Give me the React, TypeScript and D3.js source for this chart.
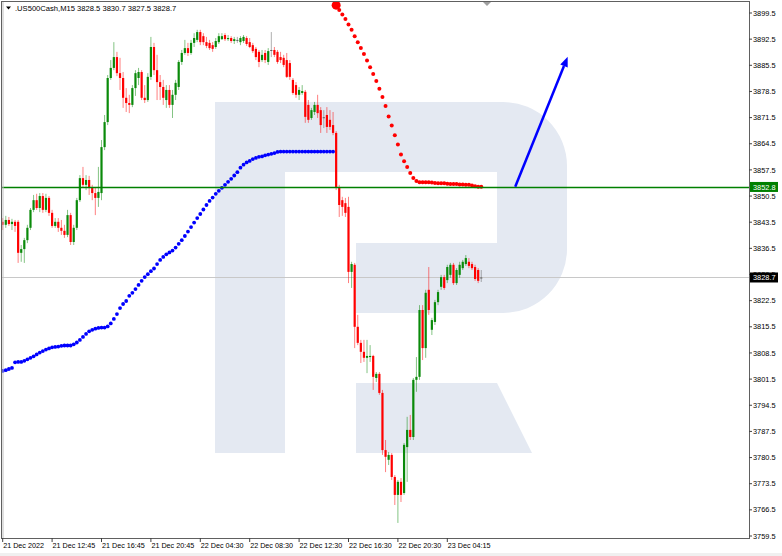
import React from 'react';
import * as d3 from 'd3';

const symbol = '.US500Cash,M15';
const lastBar = [3828.5, 3830.7, 3827.5, 3828.7];

// M15 candles
const opens = [
  3843.6, 3842.8, 3844.1, 3843.0, 3843.6, 3843.6, 3835.3, 3836.3, 3838.7, 3842.0,
  3846.8, 3849.4, 3847.3, 3850.5, 3846.8, 3850.0, 3846.0, 3842.5, 3843.6, 3842.0,
  3841.2, 3840.1, 3845.4, 3838.2, 3842.0, 3849.4, 3855.3, 3853.5, 3854.8, 3852.9,
  3851.3, 3850.0, 3851.3, 3863.6, 3870.3, 3882.1, 3884.8, 3887.7, 3883.4, 3882.1,
  3876.8, 3875.4, 3874.9, 3879.4, 3882.1, 3883.7, 3876.8, 3876.2, 3882.4, 3890.4,
  3884.2, 3881.0, 3879.7, 3876.2, 3878.9, 3874.9, 3877.6, 3879.7, 3886.4, 3888.8,
  3890.1, 3888.8, 3891.5, 3892.3, 3894.4, 3893.3, 3891.7, 3891.5, 3890.9, 3890.4,
  3891.7, 3892.5, 3893.6, 3892.5, 3892.8, 3892.0, 3892.3, 3891.7, 3892.0, 3892.8,
  3891.7, 3890.9, 3889.9, 3889.1, 3886.9, 3888.8, 3886.4, 3889.6, 3889.6, 3889.1,
  3887.7, 3887.5, 3886.9, 3886.1, 3881.6, 3880.2, 3877.6, 3878.1, 3878.4, 3874.9,
  3871.4, 3873.0, 3874.9, 3873.5, 3871.6, 3872.2, 3870.9, 3869.5, 3867.4, 3852.9,
  3849.4, 3848.6, 3847.6, 3830.2, 3832.1, 3815.5, 3811.2, 3808.8, 3807.2, 3807.4,
  3807.7, 3801.8, 3802.9, 3797.8, 3782.5, 3779.9, 3781.2, 3775.3, 3770.5, 3774.0,
  3771.0, 3783.3, 3787.9, 3786.0, 3801.3, 3802.1, 3820.0, 3809.8, 3825.4, 3814.7,
  3816.8, 3822.1, 3826.2, 3828.8, 3828.0, 3829.4, 3832.1, 3827.2, 3829.4, 3831.2,
  3832.3, 3832.9, 3832.3, 3831.5, 3830.7, 3828.5,
];
const highs = [
  3844.6, 3845.2, 3844.9, 3844.4, 3844.1, 3844.1, 3837.4, 3839.3, 3842.8, 3847.3,
  3850.8, 3851.1, 3851.3, 3851.3, 3851.1, 3850.5, 3846.8, 3844.6, 3844.6, 3844.1,
  3842.8, 3846.8, 3846.0, 3842.8, 3850.0, 3856.1, 3858.3, 3856.1, 3855.9, 3853.5,
  3852.7, 3858.3, 3865.5, 3872.2, 3882.9, 3886.9, 3891.7, 3889.1, 3887.5, 3883.7,
  3879.4, 3877.6, 3880.2, 3884.2, 3884.8, 3884.2, 3880.2, 3883.4, 3893.1, 3891.5,
  3888.3, 3882.9, 3881.6, 3880.2, 3880.2, 3878.9, 3881.6, 3886.9, 3889.6, 3892.3,
  3891.5, 3892.3, 3894.1, 3895.0, 3895.0, 3894.1, 3893.1, 3892.3, 3891.7, 3892.8,
  3894.1, 3894.1, 3894.1, 3893.6, 3893.3, 3893.1, 3893.1, 3893.3, 3893.6, 3893.3,
  3892.8, 3891.5, 3890.4, 3889.6, 3889.6, 3889.6, 3890.1, 3894.4, 3890.4, 3889.6,
  3889.1, 3888.3, 3888.8, 3886.9, 3882.1, 3881.0, 3879.7, 3880.2, 3878.9, 3876.2,
  3874.1, 3875.7, 3877.6, 3874.3, 3873.5, 3874.3, 3873.5, 3873.0, 3867.9, 3853.5,
  3850.3, 3850.0, 3850.3, 3832.9, 3832.6, 3818.7, 3812.0, 3812.0, 3812.0, 3810.6,
  3808.0, 3803.4, 3803.4, 3798.6, 3785.2, 3782.0, 3781.7, 3775.8, 3774.5, 3775.0,
  3784.4, 3791.4, 3791.9, 3801.8, 3807.4, 3821.3, 3821.3, 3825.4, 3831.5, 3817.9,
  3822.7, 3825.4, 3829.4, 3829.4, 3832.1, 3832.6, 3832.6, 3831.2, 3832.9, 3833.4,
  3834.7, 3833.9, 3832.9, 3832.1, 3831.2, 3830.7,
];
const lows = [
  3841.4, 3842.0, 3842.5, 3841.4, 3840.9, 3832.6, 3832.9, 3832.6, 3837.9, 3841.4,
  3846.2, 3846.8, 3846.2, 3846.0, 3846.2, 3845.2, 3842.0, 3842.0, 3840.9, 3840.1,
  3839.3, 3839.5, 3837.4, 3837.4, 3841.4, 3848.9, 3852.7, 3852.1, 3850.8, 3849.4,
  3845.4, 3847.6, 3849.4, 3862.8, 3869.5, 3881.6, 3884.2, 3882.6, 3878.9, 3874.1,
  3873.0, 3872.7, 3874.3, 3877.3, 3880.2, 3876.2, 3875.4, 3875.7, 3881.6, 3882.9,
  3876.2, 3876.2, 3874.9, 3874.1, 3874.1, 3871.4, 3876.2, 3878.9, 3885.6, 3888.3,
  3888.0, 3888.3, 3890.4, 3891.7, 3890.9, 3890.9, 3890.1, 3889.6, 3889.1, 3889.9,
  3891.2, 3892.3, 3892.0, 3892.0, 3891.5, 3891.2, 3891.5, 3890.9, 3891.5, 3890.7,
  3890.1, 3888.8, 3886.9, 3885.0, 3886.4, 3886.1, 3885.6, 3887.7, 3887.7, 3885.9,
  3886.1, 3885.0, 3882.1, 3881.6, 3877.6, 3876.8, 3876.2, 3877.6, 3870.1, 3870.1,
  3870.9, 3872.2, 3871.4, 3867.4, 3868.7, 3867.4, 3868.2, 3866.8, 3852.1, 3844.9,
  3845.2, 3844.9, 3827.2, 3825.9, 3809.8, 3810.6, 3805.8, 3806.1, 3803.1, 3806.1,
  3798.6, 3800.7, 3797.3, 3781.2, 3776.6, 3778.5, 3774.5, 3767.8, 3763.0, 3768.6,
  3770.5, 3774.0, 3785.2, 3785.2, 3798.1, 3801.3, 3806.6, 3807.2, 3818.7, 3813.3,
  3816.0, 3821.3, 3825.4, 3825.4, 3827.2, 3828.6, 3826.7, 3826.7, 3828.6, 3830.7,
  3831.8, 3831.2, 3830.7, 3827.8, 3827.2, 3827.5,
];
const closes = [
  3842.8, 3844.1, 3843.0, 3843.6, 3842.5, 3835.3, 3836.3, 3838.7, 3842.0, 3846.8,
  3849.4, 3847.3, 3850.5, 3846.8, 3850.0, 3846.0, 3842.5, 3843.6, 3842.0, 3841.2,
  3840.1, 3845.4, 3838.2, 3842.0, 3849.4, 3855.3, 3853.5, 3854.8, 3852.9, 3851.3,
  3850.0, 3851.6, 3863.6, 3870.3, 3882.1, 3884.8, 3887.7, 3883.4, 3882.1, 3876.8,
  3875.4, 3874.9, 3879.4, 3883.4, 3883.7, 3876.8, 3876.2, 3882.4, 3890.4, 3884.2,
  3881.0, 3879.7, 3876.8, 3878.9, 3874.9, 3877.6, 3880.8, 3886.4, 3888.8, 3890.1,
  3888.8, 3891.5, 3892.8, 3894.4, 3891.7, 3891.7, 3890.7, 3890.1, 3889.9, 3892.0,
  3893.3, 3893.3, 3892.5, 3892.8, 3892.0, 3892.5, 3892.3, 3892.8, 3893.1, 3891.2,
  3890.4, 3889.3, 3887.7, 3886.4, 3888.3, 3886.9, 3889.3, 3889.6, 3888.3, 3886.4,
  3886.9, 3885.6, 3882.4, 3882.4, 3878.1, 3877.6, 3878.9, 3878.6, 3871.7, 3870.9,
  3873.5, 3874.9, 3872.7, 3869.5, 3871.4, 3869.0, 3869.0, 3867.4, 3852.9, 3848.1,
  3847.6, 3846.0, 3830.2, 3832.3, 3815.5, 3811.2, 3808.8, 3807.2, 3807.7, 3807.7,
  3802.1, 3802.9, 3797.8, 3782.5, 3780.7, 3781.2, 3775.3, 3770.5, 3774.0, 3770.5,
  3783.9, 3787.9, 3786.0, 3801.3, 3802.1, 3820.0, 3809.8, 3824.6, 3820.0, 3817.3,
  3822.1, 3824.8, 3828.8, 3825.9, 3831.5, 3832.1, 3827.2, 3830.7, 3832.1, 3832.9,
  3833.9, 3831.8, 3831.2, 3828.3, 3827.8, 3828.7,
];

// blue dotted indicator, bars 0..107
const blueDots = [
  3803.7, 3803.9, 3804.2, 3804.5, 3806.0, 3806.1, 3806.1, 3806.4, 3806.8, 3807.2,
  3807.6, 3808.1, 3808.6, 3809.0, 3809.4, 3809.7, 3810.0, 3810.1, 3810.2, 3810.4,
  3810.5, 3810.5, 3810.5, 3810.8, 3811.3, 3812.0, 3812.8, 3813.6, 3814.3, 3814.7,
  3815.0, 3815.2, 3815.3, 3815.3, 3815.6, 3816.4, 3817.6, 3818.9, 3820.5, 3821.6,
  3822.4, 3823.8, 3824.6, 3825.6, 3826.7, 3827.8, 3828.8, 3829.6, 3830.4, 3831.1,
  3832.3, 3833.4, 3834.2, 3834.9, 3835.4, 3835.9, 3836.7, 3837.7, 3838.7, 3839.8,
  3841.0, 3842.2, 3843.4, 3844.6, 3845.7, 3846.9, 3848.1, 3849.2, 3850.1, 3851.1,
  3851.9, 3852.7, 3853.5, 3854.3, 3855.1, 3856.0, 3856.9, 3858.1, 3858.9, 3859.5,
  3859.9, 3860.4, 3860.7, 3861.0, 3861.1, 3861.4, 3861.6, 3861.8, 3862.0, 3862.3,
  3862.4, 3862.4, 3862.4, 3862.4, 3862.4, 3862.4, 3862.4, 3862.4, 3862.4, 3862.4,
  3862.4, 3862.4, 3862.4, 3862.4, 3862.4, 3862.4, 3862.4, 3862.4,
];
// red dotted indicator, from bar 108 on
const redStart = 108;
const redDots = [
  3901.6, 3900.3, 3899.1, 3897.9, 3896.4, 3895.0, 3893.3, 3891.7, 3890.1, 3888.5,
  3886.8, 3885.0, 3883.2, 3881.3, 3879.2, 3877.0, 3874.6, 3871.8, 3869.4, 3866.8,
  3864.3, 3861.6, 3859.8, 3858.3, 3856.7, 3855.3, 3854.5, 3854.2, 3854.2, 3854.2,
  3854.2, 3854.1, 3854.0, 3853.9, 3853.9, 3853.9, 3853.8, 3853.7, 3853.7, 3853.7,
  3853.6, 3853.6, 3853.5, 3853.5, 3853.3, 3853.1, 3853.0, 3853.0,
];

const yTicks = [
  3899.5, 3892.5, 3885.5, 3878.5, 3871.5, 3864.5, 3857.5, 3850.5, 3843.5, 3836.5,
  3829.5, 3822.5, 3815.5, 3808.5, 3801.5, 3794.5, 3787.5, 3780.5, 3773.5, 3766.5, 3759.5,
];
const xTickLabels = [
  '21 Dec 2022', '21 Dec 12:45', '21 Dec 16:45', '21 Dec 20:45', '22 Dec 04:30',
  '22 Dec 08:30', '22 Dec 12:30', '22 Dec 16:30', '22 Dec 20:30', '23 Dec 04:15',
];
const barsPerLabel = 16;
const levelPrice = 3852.8;
const arrowFrom = [166, 3853.0];
const arrowTo = [183, 3887.8];

const FONT = '"Liberation Sans", Arial, sans-serif';

export default function App() {
  const W = 782;
  const H = 556;
  const L = 2, T = 2, R = 749, B = 538;

  const x = d3.scaleLinear().domain([0, 144]).range([2.7, 447.3]);
  const y = d3.scaleLinear().domain([3759.5, 3899.5]).range([536, 13]);
  const last = closes[closes.length - 1];

  const bars = closes.map((c, i) => {
    const o = opens[i];
    const diff = c - o;
    const color = Math.abs(diff) < 0.25 ? '#606060' : diff > 0 ? '#0a8a0a' : '#ff0000';
    const top = y(Math.max(o, c));
    const h = Math.max(1, Math.abs(y(o) - y(c)));
    return { i, cx: x(i), hi: y(highs[i]), lo: y(lows[i]), top, h, color };
  });

  const ax0 = x(arrowFrom[0]), ay0 = y(arrowFrom[1]);
  const ax1 = x(arrowTo[0]), ay1 = y(arrowTo[1]);
  const ang = Math.atan2(ay1 - ay0, ax1 - ax0);
  const headLen = 10, headW = 4;
  const bx = ax1 - headLen * Math.cos(ang), by = ay1 - headLen * Math.sin(ang);
  const head = [
    [ax1, ay1],
    [bx + headW * Math.sin(ang), by - headW * Math.cos(ang)],
    [bx - headW * Math.sin(ang), by + headW * Math.cos(ang)],
  ];

  const logo = '#e4e9f2';

  return (
    <svg width={W} height={H} style={{ position: 'absolute', left: 0, top: 0, background: '#fff' }}
      fontFamily={FONT}>
      <defs>
        <clipPath id="plot">
          <rect x={L} y={T} width={R - L} height={B - T} />
        </clipPath>
      </defs>
      <rect x={0} y={0} width={W} height={H} fill="#fff" />
      <rect x={0} y={553} width={W} height={3} fill="#f0f0f0" />

      {/* watermark */}
      <g fill={logo}>
        <rect x={215} y={102} width={70} height={351} />
        <path d="M285,102 H503 A64,64 0 0 1 567,166 V249 A64,64 0 0 1 503,313 H356 V243 H497 V172 H285 Z" />
        <path d="M356,383 H497 L532,453 H356 Z" />
      </g>

      <g clipPath="url(#plot)">
        {/* last price line */}
        <line x1={L} x2={R} y1={y(last)} y2={y(last)} stroke="#c8c8c8" strokeWidth={1} />

        {bars.map(b => (
          <g key={b.i}>
            <line x1={b.cx} x2={b.cx} y1={b.hi} y2={b.lo} stroke={b.color} strokeOpacity={0.5} strokeWidth={1} />
            <rect x={b.cx - 1.1} y={b.top} width={2.2} height={b.h} fill={b.color} />
          </g>
        ))}

        {blueDots.map((v, i) => (
          <circle key={'b' + i} cx={x(i)} cy={y(v)} r={1.9} fill="#0000ff" />
        ))}
        {redDots.map((v, i) => (
          <circle key={'r' + i} cx={x(redStart + i)} cy={y(v)} r={i === 0 ? 4.5 : 2} fill="#ff0000" />
        ))}

        <line x1={L} x2={R} y1={y(levelPrice)} y2={y(levelPrice)} stroke="#008000" strokeWidth={1.5} />

        <line x1={ax0} y1={ay0} x2={bx} y2={by} stroke="#0000ff" strokeWidth={2.5} />
        <polygon points={head.map(p => p.join(',')).join(' ')} fill="#0000ff" />

        {/* chart shift marker */}
        <polygon points="483,2 491,2 487,6" fill="#a0a0a0" />
      </g>

      {/* frame */}
      <rect x={L - 0.5} y={T - 0.5} width={R - L + 1} height={B - T + 1} fill="none" stroke="#606060" strokeWidth={1} />
      <line x1={L + 1} x2={L + 1} y1={T} y2={B} stroke="#c0c0c0" strokeWidth={1} />

      {/* header */}
      <polygon points="6,6.5 11,6.5 8.5,9.5" fill="#000" />
      <text x={15} y={11} fontSize={7.6} fill="#000">
        {symbol}{'  '}{lastBar.map(v => v.toFixed(1)).join(' ')}
      </text>

      {/* price axis */}
      {yTicks.map(t => (
        <g key={t}>
          <line x1={R} x2={R + 3} y1={y(t)} y2={y(t)} stroke="#404040" />
          <text x={753} y={y(t) + 2.6} fontSize={7.4} fill="#000">{t.toFixed(1)}</text>
        </g>
      ))}
      <rect x={750} y={y(levelPrice) - 5.5} width={28} height={10} fill="#008000" />
      <text x={753} y={y(levelPrice) + 2.6} fontSize={7.4} fill="#fff">{levelPrice.toFixed(1)}</text>
      <rect x={750} y={y(last) - 5} width={28} height={10} fill="#000" />
      <text x={753} y={y(last) + 2.8} fontSize={7.4} fill="#fff">{last.toFixed(1)}</text>

      {/* time axis */}
      {xTickLabels.map((lab, k) => {
        const tx = x(k * barsPerLabel);
        return (
          <g key={lab}>
            <line x1={tx} x2={tx} y1={B} y2={B + 4} stroke="#404040" />
            <text x={tx + 0.5} y={548} fontSize={7.2} fill="#000">{lab}</text>
          </g>
        );
      })}
    </svg>
  );
}
